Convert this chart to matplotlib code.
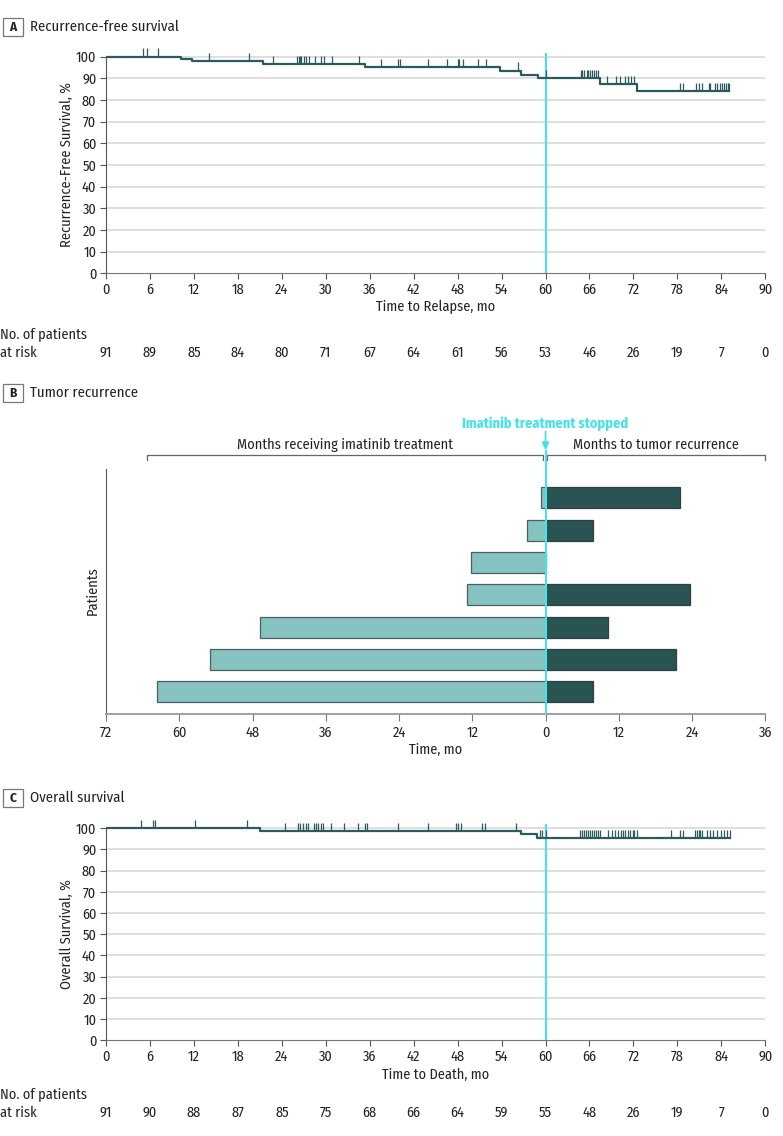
import numpy as np
import matplotlib.pyplot as plt
from matplotlib.patches import Rectangle
from matplotlib.transforms import blended_transform_factory

plt.rcParams['font.family'] = ['Fira Sans Condensed', 'PT Sans Narrow', 'Liberation Sans', 'DejaVu Sans']

W, H = 783, 1136

# ---- data ----
# A: recurrence-free survival (step times in months, survival %)
rfs_times = [0, 10.3, 11.7, 21.4, 35.4, 53.8, 56.7, 59.0, 67.4, 72.5]
rfs_surv = [100, 98.9, 97.8, 96.6, 95.0, 93.5, 91.7, 89.9, 87.4, 83.9]
rfs_end = 85.0
rfs_censor = [5.0, 5.6, 7.1, 14.0, 19.5, 22.8, 26.1, 26.3, 26.5, 26.6, 27.0, 27.3, 27.7,
              28.5, 29.4, 29.8, 30.9, 34.5, 37.6, 39.9, 40.2, 44.0, 46.6, 48.0, 48.2,
              48.7, 50.8, 51.9, 56.2, 60.0, 64.8, 65.0, 65.3, 65.6, 65.8, 66.1, 66.4,
              66.6, 66.9, 67.2, 68.4, 69.6, 70.1, 70.8, 71.2, 71.6, 72.1, 78.4, 78.8,
              80.5, 80.9, 81.3, 82.3, 82.5, 83.1, 83.4, 83.8, 84.1, 84.4, 84.6, 84.9, 85.0]
rfs_risk = [91, 89, 85, 84, 80, 71, 67, 64, 61, 56, 53, 46, 26, 19, 7, 0]

# C: overall survival
os_times = [0, 21.0, 56.6, 58.9]
os_surv = [100, 98.9, 97.2, 95.5]
os_end = 85.2
os_censor = [4.8, 6.4, 6.7, 12.1, 19.2, 24.5, 26.2, 26.5, 26.9, 27.3, 27.6, 28.4, 28.7,
             29.0, 29.3, 29.6, 30.7, 32.5, 34.4, 35.3, 35.6, 39.9, 44.0, 47.8, 48.1,
             48.5, 51.3, 51.8, 56.0, 59.3, 59.5, 60.0, 64.7, 65.0, 65.3, 65.5, 65.8,
             66.1, 66.4, 66.6, 66.9, 67.2, 67.4, 68.5, 69.1, 69.5, 69.9, 70.3, 70.6,
             70.9, 71.3, 71.5, 71.9, 72.1, 72.5, 77.1, 78.3, 78.8, 80.4, 80.7, 80.9,
             81.1, 81.4, 82.0, 82.5, 82.9, 83.4, 83.9, 84.3, 84.8, 85.2]
os_risk = [91, 90, 88, 87, 85, 75, 68, 66, 64, 59, 55, 48, 26, 19, 7, 0]

risk_times = list(range(0, 91, 6))

# B: patients, top to bottom
imatinib_months = [0.7, 3.1, 12.2, 12.9, 46.8, 55.0, 63.6]
recurrence_months = [22.1, 7.7, 0, 23.7, 10.3, 21.3, 7.7]

LINE = '#2d5a5d'
CYAN = '#45e2ea'
LIGHT = '#85c2c0'
DARK = '#2a5354'
GRID = '#d9d9d9'
TXT = '#222222'
FS = 10.3


def box(l, t, r, b):
    return [l / W, 1 - b / H, (r - l) / W, (b - t) / H]


def fy(y):
    return 1 - y / H


fig = plt.figure(figsize=(W / 100, H / 100), dpi=100)


def panel_label(letter, title, y):
    fig.add_artist(Rectangle((3 / W, fy(y + 9)), 20 / W, 18 / H, transform=fig.transFigure,
                             fc='white', ec='#777777', lw=0.9))
    fig.text(13 / W, fy(y), letter, ha='center', va='center', fontsize=9.5,
             fontweight='bold', color=TXT)
    fig.text(30 / W, fy(y), title, ha='left', va='center', fontsize=10.6, color=TXT)


def km_panel(rect, times, surv, end, censor, risk, xlabel, ylabel, label_y, risk_y):
    ax = fig.add_axes(rect)
    ax.set_xlim(0, 90)
    ax.set_ylim(0, 104)
    for g in range(10, 101, 10):
        ax.plot([0, 90], [g, g], color=GRID, lw=1.2, zorder=0)
    ax.step(times + [end], surv + [surv[-1]], where='post', color=LINE, lw=1.6, zorder=3)
    times_arr = np.array(times)
    levels = [surv[np.searchsorted(times_arr, c, side='right') - 1] for c in censor]
    ax.vlines(censor, levels, np.array(levels) + 3.8, color=LINE, lw=0.9, zorder=3)
    ax.vlines(60, 0, 101.8, color=CYAN, lw=1.5, zorder=2)
    for s in ['top', 'right']:
        ax.spines[s].set_visible(False)
    ax.spines['left'].set_bounds(0, 100)
    ax.spines['left'].set_color('#555555')
    ax.spines['bottom'].set_color('#777777')
    ax.set_xticks(risk_times)
    ax.set_yticks(range(0, 101, 10))
    ax.tick_params(direction='out', length=4, width=0.8, colors='#555555',
                   labelcolor=TXT, labelsize=FS, pad=3)
    trans = blended_transform_factory(ax.transData, fig.transFigure)
    ax.text(45, fy(label_y), xlabel, transform=trans, ha='center', va='center',
            fontsize=FS, color=TXT)
    fig.text(67 / W, (rect[1] + rect[3] * 100 / 208), ylabel, rotation=90,
             ha='center', va='center', fontsize=FS, color=TXT)
    fig.text(0, fy(risk_y - 19), 'No. of patients', ha='left', va='center',
             fontsize=FS, color=TXT)
    fig.text(0, fy(risk_y), 'at risk', ha='left', va='center', fontsize=FS, color=TXT)
    for t, n in zip(risk_times, risk):
        ax.text(t, fy(risk_y), str(n), transform=trans, ha='center', va='center',
                fontsize=FS, color=TXT)
    return ax


# ---- Panel A ----
panel_label('A', 'Recurrence-free survival', 27)
km_panel(box(106, 47.9, 765.3, 273.3), rfs_times, rfs_surv, rfs_end, rfs_censor,
         rfs_risk, 'Time to Relapse, mo', 'Recurrence-Free Survival, %', 307, 353)

# ---- Panel B ----
panel_label('B', 'Tumor recurrence', 393)
axb = fig.add_axes(box(106, 469.3, 765.3, 714.3))
rows = np.arange(len(imatinib_months), 0, -1)
axb.barh(rows, [-v for v in imatinib_months], height=0.65, color=LIGHT,
         edgecolor='#4f5f5f', lw=0.9, zorder=2)
rec_rows = [r for r, v in zip(rows, recurrence_months) if v > 0]
rec_vals = [v for v in recurrence_months if v > 0]
axb.barh(rec_rows, rec_vals, height=0.65, color=DARK, edgecolor='#333f3f', lw=0.9, zorder=2)
axb.set_xlim(-72, 36)
axb.set_ylim(0.3, 7.88)
axb.set_yticks([])
bticks = list(range(-72, 37, 12))
axb.set_xticks(bticks)
axb.set_xticklabels([str(abs(t)) for t in bticks])
for s in ['top', 'right']:
    axb.spines[s].set_visible(False)
axb.spines['left'].set_color('#555555')
axb.spines['bottom'].set_color('#999999')
axb.spines['bottom'].set_linewidth(1.3)
axb.tick_params(axis='x', direction='out', length=5, width=0.8, colors='#777777',
                labelcolor=TXT, labelsize=FS, pad=3)
axb.vlines(0, 0.3, 8.48, color=CYAN, lw=1.5, zorder=4, clip_on=False)
axb.annotate('', xy=(0, 8.46), xytext=(0, 9.05),
             arrowprops=dict(arrowstyle='-|>,head_width=0.2,head_length=0.45',
                             color=CYAN, lw=1.3, shrinkA=0, shrinkB=0),
             annotation_clip=False)
axb.text(0, 9.3, 'Imatinib treatment stopped', ha='center', va='center',
         fontsize=FS, fontweight='bold', color=CYAN, clip_on=False)
# brackets
for x0, x1, lab in [(-65.3, -0.4, 'Months receiving imatinib treatment'),
                    (0.3, 36, 'Months to tumor recurrence')]:
    axb.plot([x0, x0, x1, x1], [8.17, 8.32, 8.32, 8.17], color='#666666', lw=0.9,
             clip_on=False)
    axb.text((x0 + x1) / 2, 8.63, lab, ha='center', va='center', fontsize=FS,
             color=TXT, clip_on=False)
transb = blended_transform_factory(axb.transData, fig.transFigure)
axb.text(-18, fy(750), 'Time, mo', transform=transb, ha='center', va='center',
         fontsize=FS, color=TXT)
fig.text(93 / W, fy(591), 'Patients', rotation=90, ha='center', va='center',
         fontsize=FS, color=TXT)

# ---- Panel C ----
panel_label('C', 'Overall survival', 798)
km_panel(box(106, 819.8, 765.3, 1040.3), os_times, os_surv, os_end, os_censor,
         os_risk, 'Time to Death, mo', 'Overall Survival, %', 1075, 1113)

fig.savefig('out.png', dpi=100)
